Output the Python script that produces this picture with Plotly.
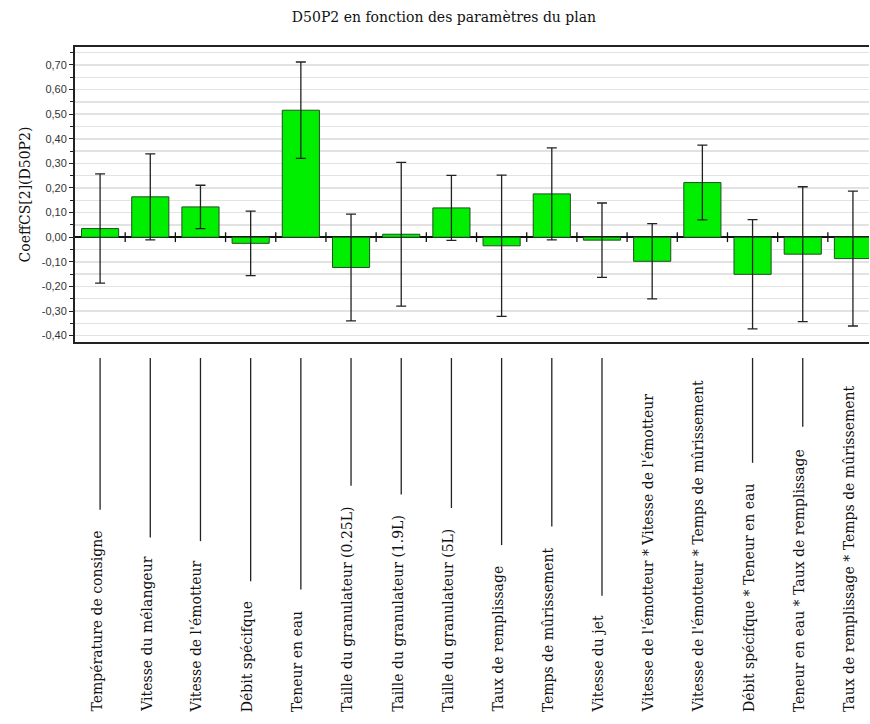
import numpy as np
import plotly.graph_objects as go

# ---- data ----
categories = [
    "Température de consigne",
    "Vitesse du mélangeur",
    "Vitesse de l'émotteur",
    "Débit spécifque",
    "Teneur en eau",
    "Taille du granulateur (0.25L)",
    "Taille du granulateur (1.9L)",
    "Taille du granulateur (5L)",
    "Taux de remplissage",
    "Temps de mûrissement",
    "Vitesse du jet",
    "Vitesse de l'émotteur * Vitesse de l'émotteur",
    "Vitesse de l'émotteur * Temps de mûrissement",
    "Débit spécifque * Teneur en eau",
    "Teneur en eau * Taux de remplissage",
    "Taux de remplissage * Temps de mûrissement",
]
coefficients = [0.035, 0.164, 0.123, -0.025, 0.516, -0.123, 0.012, 0.119,
                -0.035, 0.176, -0.012, -0.098, 0.222, -0.151, -0.069, -0.087]
conf_half = [0.222, 0.175, 0.088, 0.131, 0.196, 0.217, 0.292, 0.132,
             0.287, 0.187, 0.151, 0.153, 0.152, 0.222, 0.274, 0.274]
ytick_vals = [-0.4, -0.3, -0.2, -0.1, 0.0, 0.1, 0.2, 0.3, 0.4, 0.5, 0.6, 0.7]
ytick_text = ["-0,40", "-0,30", "-0,20", "-0,10", "0,00", "0,10", "0,20",
              "0,30", "0,40", "0,50", "0,60", "0,70"]
title_text = "D50P2 en fonction des paramètres du plan"
ytitle_text = "CoeffCS[2](D50P2)"

# ---- layout helpers ----
W, H = 870, 724
ML, MR, MT, MB = 75, 1, 47, 382
plot_h = H - MT - MB
LABEL_FONT = 14

def px_to_paper_y(py):
    return (H - MB - py) / plot_h

_w = {' ': .318, 'a': .596, 'b': .640, 'c': .560, 'd': .640, 'e': .592, 'f': .370,
      'g': .640, 'h': .644, 'i': .320, 'j': .310, 'k': .606, 'l': .320, 'm': .948,
      'n': .644, 'o': .602, 'p': .640, 'q': .640, 'r': .478, 's': .513, 't': .402,
      'u': .644, 'v': .565, 'w': .856, 'x': .564, 'y': .565, 'z': .527, 'é': .592,
      'è': .592, 'û': .644, 'T': .668, 'V': .722, 'D': .770, 'L': .641, '(': .390,
      ')': .390, '.': .318, "'": .275, '*': .500}

def text_len(s, size):
    return sum(_w.get(ch, 0.636 if ch.isdigit() else 0.6) for ch in s) * size

x = np.arange(len(categories))

fig = go.Figure()
fig.add_trace(go.Bar(
    x=x, y=coefficients, width=0.74,
    marker=dict(color="#00ef00", line=dict(color="#1f4f1f", width=1)),
    error_y=dict(type="data", array=conf_half, visible=True,
                 color="#222222", thickness=1.3, width=5),
    hoverinfo="skip", showlegend=False,
))
# small ticks on the zero line between categories
fig.add_trace(go.Scatter(
    x=x[:-1] + 0.5, y=np.zeros(len(categories) - 1), mode="markers",
    marker=dict(symbol="line-ns-open", size=7, color="#111111",
                line=dict(color="#111111", width=1.3)),
    hoverinfo="skip", showlegend=False,
))

text_bottom_px = 714
line_top_px = 358
annotations = []
shapes = []
for i, lab in enumerate(categories):
    annotations.append(dict(
        x=i, y=px_to_paper_y(text_bottom_px), xref="x", yref="paper",
        text=lab, textangle=-90, showarrow=False, xanchor="center", yanchor="bottom",
        xshift=-4,
        font=dict(family="DejaVu Serif", size=LABEL_FONT, color="#111111"),
    ))
    top_px = text_bottom_px - text_len(lab, LABEL_FONT)
    line_bottom_px = top_px - 22
    if line_bottom_px - line_top_px > 25:
        shapes.append(dict(
            type="line", xref="x", yref="paper", x0=i, x1=i,
            y0=px_to_paper_y(line_top_px), y1=px_to_paper_y(line_bottom_px),
            line=dict(color="#222222", width=1.3),
        ))

minor_vals = list(np.round(np.arange(-0.40, 0.76, 0.05), 2))

fig.update_layout(
    width=W, height=H,
    margin=dict(l=ML, r=MR, t=MT, b=MB),
    paper_bgcolor="white", plot_bgcolor="white",
    title=dict(text=title_text, x=444 / W, xref="container", xanchor="center",
               y=1 - 17 / H, yref="container", yanchor="middle",
               font=dict(family="DejaVu Serif", size=14, color="#111111")),
    xaxis=dict(range=[-0.5, 15.32], showticklabels=False, ticks="",
               showgrid=False, zeroline=False, showline=True, mirror=True,
               linecolor="#222222", linewidth=2, fixedrange=True),
    yaxis=dict(range=[-0.426, 0.773], tickmode="array", tickvals=ytick_vals,
               ticktext=ytick_text, ticks="outside", ticklen=4, tickcolor="#222222",
               tickfont=dict(family="Liberation Sans", size=11, color="#333333"),
               showgrid=True, gridcolor="#e2e2e2", gridwidth=1.5,
               minor=dict(tickmode="array", tickvals=minor_vals, ticks="outside",
                          ticklen=3, tickcolor="#222222", showgrid=True,
                          gridcolor="#e2e2e2", gridwidth=1.5),
               zeroline=True, zerolinecolor="#111111", zerolinewidth=1.5,
               showline=True, linecolor="#222222", linewidth=2,
               title=dict(text=ytitle_text, standoff=8,
                          font=dict(family="DejaVu Serif", size=14, color="#111111")),
               fixedrange=True),
    annotations=annotations,
    shapes=shapes,
    bargap=0.26,
)

fig.write_html(
    "out.html",
    config={"displayModeBar": False, "staticPlot": True},
    post_script="document.body.style.margin='0';document.body.style.padding='0';"
                "document.documentElement.style.overflow='hidden';",
)
